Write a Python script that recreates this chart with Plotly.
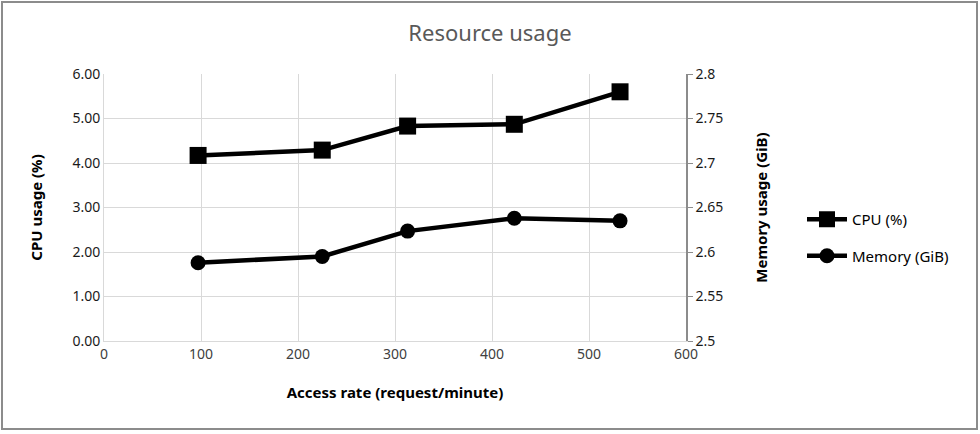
import plotly.graph_objects as go

access_rate = [97, 225, 313, 423, 532]
cpu_pct = [4.17, 4.29, 4.83, 4.87, 5.60]
memory_gib = [2.588, 2.595, 2.6235, 2.638, 2.635]

left_ticks = [0, 1, 2, 3, 4, 5, 6]
left_labels = ["0.00", "1.00", "2.00", "3.00", "4.00", "5.00", "6.00"]
right_ticks = [2.5, 2.55, 2.6, 2.65, 2.7, 2.75, 2.8]
right_labels = ["2.5", "2.55", "2.6", "2.65", "2.7", "2.75", "2.8"]
x_ticks = [0, 100, 200, 300, 400, 500, 600]

FONT = "Noto Sans"
W, H = 980, 434
L, R, T, B = 104, 294, 74, 93
pw, ph = W - L - R, H - T - B

fig = go.Figure()
fig.add_trace(go.Scatter(
    x=access_rate, y=cpu_pct, name="CPU (%)", mode="lines+markers",
    legendgroup="cpu",
    line=dict(color="black", width=4.5),
    marker=dict(symbol="square", size=17, color="black"),
    yaxis="y"))
fig.add_trace(go.Scatter(
    x=access_rate, y=memory_gib, name="Memory (GiB)", mode="lines+markers",
    legendgroup="mem",
    line=dict(color="black", width=4.5),
    marker=dict(symbol="circle", size=15, color="black"),
    yaxis="y2"))

def px_x(p):
    return (p - L) / pw

def px_y(p):
    return (H - B - p) / ph

fig.update_layout(
    width=W, height=H,
    margin=dict(l=L, r=R, t=T, b=B),
    paper_bgcolor="white", plot_bgcolor="white",
    font=dict(family=FONT, size=14, color="#1a1a1a"),
    title=dict(text="Resource usage", x=0.5, xref="container", xanchor="center",
               y=1 - 33 / H, yref="container", yanchor="middle",
               font=dict(family=FONT, size=22, color="#595959")),
    xaxis=dict(range=[0, 600], tickvals=x_ticks, showgrid=True,
               gridcolor="#d9d9d9", gridwidth=1, zeroline=False,
               showline=True, linecolor="#d9d9d9", linewidth=1,
               ticks="", tickfont=dict(size=14, color="#404040"),
               title=dict(text="<b>Access rate (request/minute)</b>", standoff=25,
                          font=dict(size=15, color="black"))),
    yaxis=dict(range=[0, 6], tickvals=left_ticks, ticktext=left_labels,
               showgrid=True, gridcolor="#d9d9d9", gridwidth=1, zeroline=False,
               showline=True, linecolor="#d9d9d9", ticks="",
               tickfont=dict(size=14, color="#1a1a1a"),
               title=dict(text="<b>CPU usage (%)</b>", standoff=26,
                          font=dict(size=15, color="black"))),
    yaxis2=dict(range=[2.5, 2.8], tickvals=right_ticks, ticktext=right_labels,
                overlaying="y", side="right", showgrid=False, zeroline=False,
                showline=True, linecolor="#8c8c8c", linewidth=1.5,
                ticks="outside", ticklen=5, tickcolor="#8c8c8c",
                tickfont=dict(size=14, color="#1a1a1a"),
                title=dict(text="<b>Memory usage (GiB)</b>", standoff=34,
                           font=dict(size=15, color="black"))),
    legend=dict(x=802 / W, xref="container", xanchor="left",
                y=1 - 203 / H, yref="container", yanchor="top",
                font=dict(size=15, color="black"), itemwidth=40,
                tracegroupgap=14, bgcolor="rgba(0,0,0,0)"),
    shapes=[dict(type="rect", xref="paper", yref="paper",
                 x0=px_x(2), x1=px_x(977), y0=px_y(429), y1=px_y(2),
                 line=dict(color="#8c8c8c", width=2), fillcolor="rgba(0,0,0,0)",
                 layer="below")],
)

fig.write_html("out.html", config={"displayModeBar": False},
               post_script="document.body.style.margin='0';document.body.style.padding='0';")
